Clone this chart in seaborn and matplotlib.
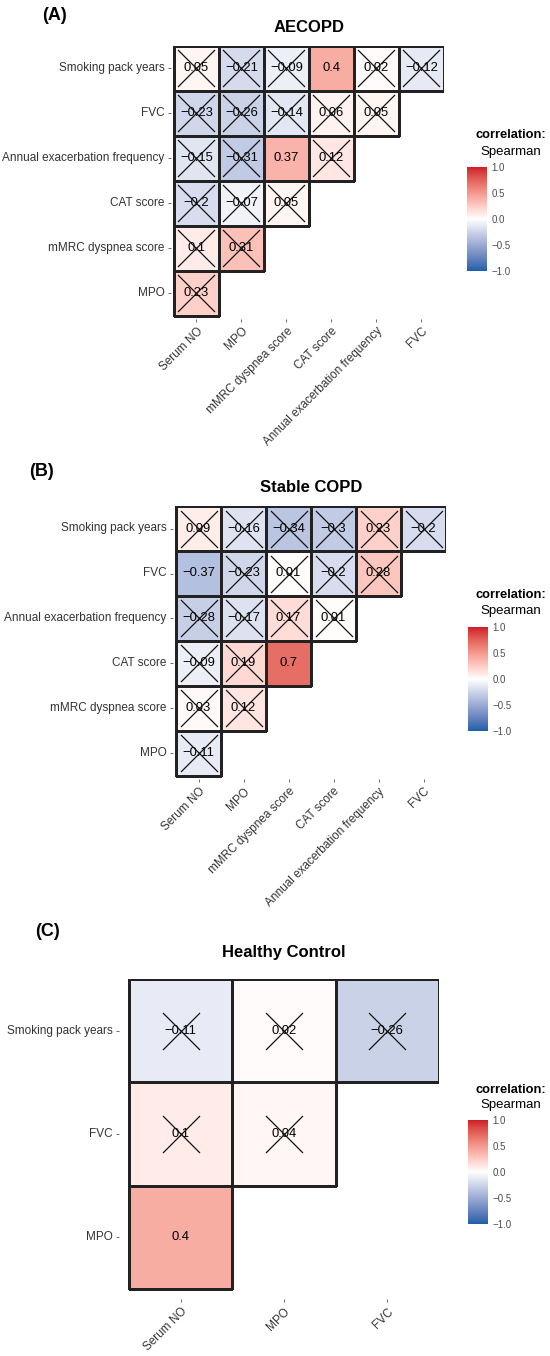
import numpy as np
import pandas as pd
import matplotlib
matplotlib.use("Agg")
import matplotlib.pyplot as plt
import seaborn as sns
from matplotlib.colors import ListedColormap, to_rgb, to_rgba

sns.set_theme(style="white")
plt.rcParams['font.family'] = ['Liberation Sans', 'DejaVu Sans']

nan = np.nan

# ---------------- DATA ----------------
rows_6 = ["Smoking pack years", "FVC", "Annual exacerbation frequency",
          "CAT score", "mMRC dyspnea score", "MPO"]
cols_6 = ["Serum NO", "MPO", "mMRC dyspnea score", "CAT score",
          "Annual exacerbation frequency", "FVC"]

aecopd_r = [
    [0.05, -0.21, -0.09, 0.4, 0.02, -0.12],
    [-0.23, -0.26, -0.14, 0.06, 0.05, nan],
    [-0.15, -0.31, 0.37, 0.12, nan, nan],
    [-0.2, -0.07, 0.05, nan, nan, nan],
    [0.1, 0.31, nan, nan, nan, nan],
    [0.23, nan, nan, nan, nan, nan],
]
aecopd_sig = [
    [0, 0, 0, 1, 0, 0],
    [0, 0, 0, 0, 0, 0],
    [0, 0, 1, 0, 0, 0],
    [0, 0, 0, 0, 0, 0],
    [0, 0, 0, 0, 0, 0],
    [0, 0, 0, 0, 0, 0],
]

stable_r = [
    [0.09, -0.16, -0.34, -0.3, 0.23, -0.2],
    [-0.37, -0.23, 0.01, -0.2, 0.28, nan],
    [-0.28, -0.17, 0.17, 0.01, nan, nan],
    [-0.09, 0.19, 0.7, nan, nan, nan],
    [0.03, 0.12, nan, nan, nan, nan],
    [-0.11, nan, nan, nan, nan, nan],
]
stable_sig = [
    [0, 0, 0, 0, 0, 0],
    [1, 0, 0, 0, 0, 0],
    [0, 0, 0, 0, 0, 0],
    [0, 0, 1, 0, 0, 0],
    [0, 0, 0, 0, 0, 0],
    [0, 0, 0, 0, 0, 0],
]

rows_3 = ["Smoking pack years", "FVC", "MPO"]
cols_3 = ["Serum NO", "MPO", "FVC"]
healthy_r = [
    [-0.11, 0.02, -0.26],
    [0.1, 0.04, nan],
    [0.4, nan, nan],
]
healthy_sig = [
    [0, 0, 0],
    [0, 0, 0],
    [1, 0, 0],
]

cbar_ticks = [-1.0, -0.5, 0.0, 0.5, 1.0]
cbar_ticklabels = ["\u22121.0", "\u22120.5", "0.0", "0.5", "1.0"]

# ---------------- COLORMAP (Lab interpolation like ggplot) ----------------
def _lin(c):
    c = np.asarray(c)
    return np.where(c <= 0.04045, c / 12.92, ((c + 0.055) / 1.055) ** 2.4)

def _delin(c):
    c = np.clip(c, 0, 1)
    return np.where(c <= 0.0031308, 12.92 * c, 1.055 * c ** (1 / 2.4) - 0.055)

M = np.array([[0.4124, 0.3576, 0.1805],
              [0.2126, 0.7152, 0.0722],
              [0.0193, 0.1192, 0.9505]])
Minv = np.linalg.inv(M)
WP = np.array([0.95047, 1.0, 1.08883])

def rgb2lab(rgb):
    xyz = M @ _lin(rgb) / WP
    f = np.where(xyz > 0.008856, np.cbrt(xyz), 7.787 * xyz + 16 / 116)
    return np.array([116 * f[1] - 16, 500 * (f[0] - f[1]), 200 * (f[1] - f[2])])

def lab2rgb(lab):
    fy = (lab[0] + 16) / 116
    fx = fy + lab[1] / 500
    fz = fy - lab[2] / 200
    f = np.array([fx, fy, fz])
    xyz = np.where(f ** 3 > 0.008856, f ** 3, (f - 16 / 116) / 7.787) * WP
    return _delin(Minv @ xyz)

low, mid, high = rgb2lab(to_rgb("#1A5FA8")), rgb2lab(to_rgb("#FFFFFF")), rgb2lab(to_rgb("#CD1B2B"))
cols_list = []
for t in np.linspace(-1, 1, 256):
    if t < 0:
        lab = mid + (low - mid) * (-t)
    else:
        lab = mid + (high - mid) * t
    cols_list.append(lab2rgb(lab))
cmap = ListedColormap(cols_list)
clear_cmap = ListedColormap([(0, 0, 0, 0), (0, 0, 0, 0)])

# ---------------- FIGURE ----------------
W, H = 550, 1356
fig = plt.figure(figsize=(W / 100, H / 100), dpi=100)
fig.patch.set_facecolor("white")

def fx(x):
    return x / W

def fy(y):
    return 1 - y / H

def fmt(v):
    return f"{v:g}".replace("-", "\u2212")

def panel(r, sig, rows, cols, gl, gt, cell, exp, title, letter, letter_xy,
          title_y, cbar_box, leg_y):
    n_r, n_c = len(rows), len(cols)
    e = exp * cell
    ax = fig.add_axes([fx(gl - e), fy(gt + n_r * cell + e), (n_c * cell + e) / W,
                       (n_r * cell + e) / H])
    cax = fig.add_axes([fx(cbar_box[0]), fy(cbar_box[3]),
                        (cbar_box[2] - cbar_box[0]) / W, (cbar_box[3] - cbar_box[1]) / H])
    df = pd.DataFrame(r, index=rows, columns=cols)
    arr = df.values
    valid = ~np.isnan(arr)
    annot = np.array([[fmt(v) if not np.isnan(v) else "" for v in row] for row in arr])
    # filled cells with labels
    sns.heatmap(df, ax=ax, cmap=cmap, vmin=-1, vmax=1, mask=~valid,
                annot=annot, fmt="", annot_kws=dict(size=9.4, color="black"),
                linewidths=0, cbar_ax=cax, cbar_kws=dict(ticks=cbar_ticks))
    cb = ax.collections[0].colorbar
    # outline layer (transparent faces) drawn after all fills
    sns.heatmap(df, ax=ax, cmap=clear_cmap, vmin=-1, vmax=1, mask=~valid,
                cbar=False, linewidths=0.75, linecolor="#222222")
    mesh2 = ax.collections[-1]
    ec = np.zeros((valid.size, 4))
    ec[valid.ravel()] = to_rgba("#222222")
    mesh2.set_edgecolor(ec)
    # insignificant crosses
    sg = np.array(sig)
    yy, xx = np.where((sg == 0) & valid)
    ax.scatter(xx + 0.5, yy + 0.5, marker="x", s=(37 * 0.72) ** 2,
               c="#111111", linewidths=0.9, zorder=5)
    ax.set_xlim(-exp, n_c)
    ax.set_ylim(n_r + exp, 0)
    for s in ax.spines.values():
        s.set_visible(False)
    ax.set_xticks(np.arange(n_c) + 0.5)
    ax.set_yticks(np.arange(n_r) + 0.5)
    ax.set_xticklabels(cols, rotation=45, ha="right", va="top", rotation_mode="anchor")
    ax.set_yticklabels(rows, rotation=0, va="center")
    ax.tick_params(axis="both", bottom=True, left=True, length=2.5, width=0.6,
                   color="#555555", labelsize=8.5, labelcolor="#333333", pad=2)
    ax.set_xlabel("")
    ax.set_ylabel("")
    # colorbar styling
    cb.outline.set_visible(False)
    cb.set_ticks(cbar_ticks)
    cb.set_ticklabels(cbar_ticklabels)
    cax.tick_params(axis="y", direction="in", left=True, right=True, length=3.5,
                    width=0.8, color="white", labelsize=7, labelcolor="#4D4D4D", pad=3)
    # texts
    cx = gl + n_c * cell / 2
    fig.text(fx(cx), fy(title_y), title, ha="center", va="center",
             fontsize=12, fontweight="bold", color="black")
    fig.text(fx(letter_xy[0]), fy(letter_xy[1]), letter, ha="left", va="center",
             fontsize=13, fontweight="bold", color="black")
    fig.text(fx(511), fy(leg_y[0]), "correlation:", ha="center", va="center",
             fontsize=9.3, fontweight="bold", color="black")
    fig.text(fx(511), fy(leg_y[1]), "Spearman", ha="center", va="center",
             fontsize=9.5, color="black")

panel(aecopd_r, aecopd_sig, rows_6, cols_6, 174, 45.7, 45, 0.07, "AECOPD", "(A)",
      (42, 15), 28, (467, 167, 487, 271), (135, 152))
panel(stable_r, stable_sig, rows_6, cols_6, 176, 506, 45, 0.07, "Stable COPD", "(B)",
      (29, 472), 487, (468, 627, 488, 731), (595, 611))
panel(healthy_r, healthy_sig, rows_3, cols_3, 129, 979, 103.3, 0.1, "Healthy Control", "(C)",
      (35, 931), 953, (468, 1120, 488, 1224), (1090, 1105))

fig.savefig("out.png", dpi=100, facecolor="white")
